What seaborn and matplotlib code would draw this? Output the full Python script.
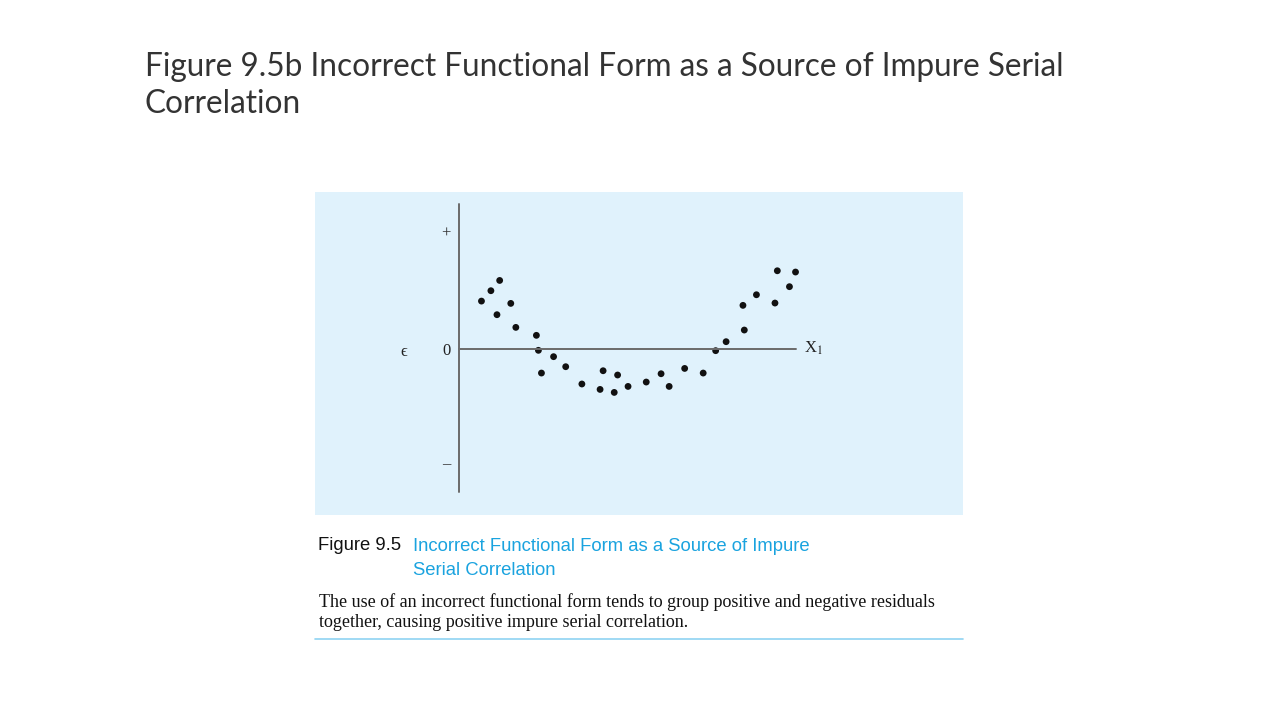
import numpy as np
import pandas as pd
import seaborn as sns
import matplotlib
matplotlib.use("Agg")
import matplotlib.pyplot as plt

# residuals (x along X1 axis 0-100, y scaled so + = 1, - = -1)
x1 = [6.7, 9.5, 12.1, 11.3, 15.4, 16.9, 23.0, 23.6, 24.5, 28.1, 31.7,
      36.5, 41.9, 42.8, 46.1, 47.1, 50.2, 55.6, 60.0, 62.4, 67.0, 72.5,
      76.2, 79.3, 84.3, 84.7, 88.3, 93.8, 94.5, 98.1, 99.9]
resid = [0.413, 0.503, 0.592, 0.295, 0.393, 0.185, 0.116, -0.014, -0.211, -0.069, -0.156,
         -0.306, -0.353, -0.191, -0.379, -0.228, -0.327, -0.289, -0.217, -0.327, -0.171, -0.211,
         -0.017, 0.061, 0.376, 0.162, 0.468, 0.396, 0.676, 0.538, 0.665]
df = pd.DataFrame({"x1": x1, "resid": resid})

title = "Figure 9.5b Incorrect Functional Form as a Source of Impure Serial\nCorrelation"
cap_head = "Figure 9.5"
cap_blue = "Incorrect Functional Form as a Source of Impure\nSerial Correlation"
cap_body = ("The use of an incorrect functional form tends to group positive and negative residuals\n"
            "together, causing positive impure serial correlation.")

sns.set_style("white")
W, H = 1280, 720
fig = plt.figure(figsize=(12.8, 7.2), dpi=100)
fig.patch.set_facecolor("white")

# blue panel holds the scatter
ax = fig.add_axes([315 / W, 1 - 515 / H, (963 - 315) / W, (515 - 192) / H])
ax.set_facecolor("#e0f2fc")
sns.scatterplot(data=df, x="x1", y="resid", color="#111111", s=24, edgecolor="none",
                legend=False, ax=ax)
ax.set_xlim(-42.7, 149.6)
ax.set_ylim(-1.442, 1.359)
for sp in ax.spines.values():
    sp.set_visible(False)
ax.set_xticks([]); ax.set_yticks([])
ax.set_xlabel(""); ax.set_ylabel("")

axis_col = "#6b6b6b"
ax.plot([0, 0], [-1.24, 1.253], color=axis_col, lw=1.4, zorder=1)
ax.plot([0, 100], [0, 0], color=axis_col, lw=1.4, zorder=1)
serif = "Liberation Serif"
ax.text(-2.5, 1.0, "+", ha="right", va="center", fontsize=12, family=serif, color="#333333")
ax.text(-2.5, -0.02, "0", ha="right", va="center", fontsize=12, family=serif, color="#222222")
ax.text(-2.5, -1.0, "\u2013", ha="right", va="center", fontsize=12, family=serif, color="#333333")
ax.text(-16.3, -0.03, "\u03f5", ha="center", va="center", fontsize=12, family=serif, color="#222222")
ax.text(102.5, 0.0, "X$_1$", ha="left", va="center", fontsize=12, family=serif, color="#222222",
        math_fontfamily="stix")

# slide title
fig.text(145 / W, 1 - 52 / H, title, ha="left", va="top", fontsize=22.7, family="Lato",
         color="#333333", linespacing=1.3)

# book caption
fig.text(318 / W, 1 - 545 / H, cap_head, ha="left", va="center", fontsize=13.3,
         family="Liberation Sans", color="#111111")
fig.text(413 / W, 1 - 538 / H, cap_blue, ha="left", va="top", fontsize=13.3,
         family="Liberation Sans", color="#1aa3df", linespacing=1.55)
fig.text(319 / W, 1 - 593 / H, cap_body, ha="left", va="top", fontsize=13,
         family=serif, color="#111111", linespacing=1.22)
fig.add_artist(plt.Line2D([315 / W, 963 / W], [1 - 639 / H, 1 - 639 / H], color="#8fd3f2", lw=1.2))

fig.savefig("out.png", dpi=100, facecolor="white")
